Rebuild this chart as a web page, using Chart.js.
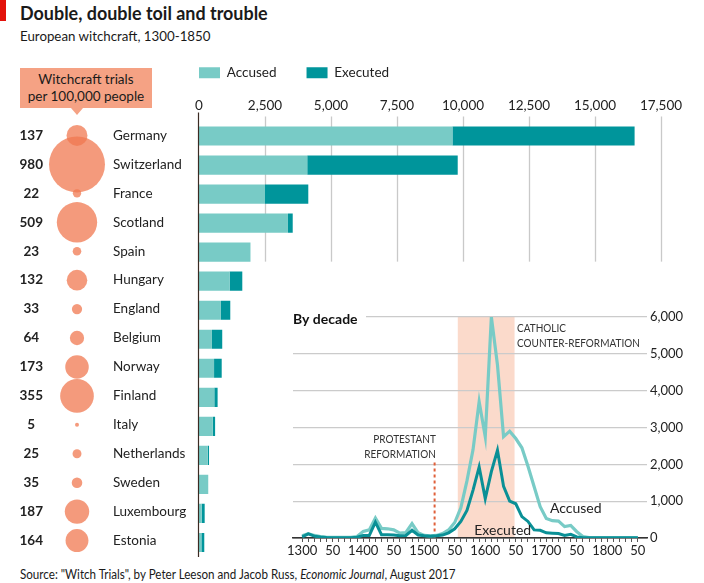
<!DOCTYPE html>
<html>
<head>
<meta charset="utf-8">
<script src="https://cdn.jsdelivr.net/npm/chart.js@4"></script>
<style>
  html, body { margin: 0; padding: 0; background: #fff; }
  body { width: 704px; height: 583px; position: relative; overflow: hidden;
         font-family: Lato, "Noto Sans", sans-serif; color: #1a1a1a; }
  canvas { position: absolute; }
  #redbar { position: absolute; left: 0; top: 0; width: 6px; height: 21px; background: #e3120b; }
  #title { position: absolute; left: 20px; top: 1px; font-size: 19.5px; font-weight: bold; white-space: nowrap;
           transform: scaleX(0.92); transform-origin: left top; }
  #subtitle { position: absolute; left: 20px; top: 27px; font-size: 14px; white-space: nowrap;
              transform: scaleX(0.95); transform-origin: left top; }
  #ratebox { position: absolute; left: 20px; top: 68px; width: 132px; height: 40px; background: #f5a284;
             text-align: center; font-size: 13.5px; line-height: 17px; padding-top: 3px; box-sizing: border-box; }
  #ratebox:after { content: ""; position: absolute; left: 51px; top: 40px; border-left: 6px solid transparent;
                   border-right: 6px solid transparent; border-top: 7px solid #f5a284; }
  #source { position: absolute; left: 20px; top: 567px; font-size: 12.5px; white-space: nowrap;
            transform: scaleX(0.93); transform-origin: left top; }
</style>
</head>
<body>
<div id="redbar"></div>
<div id="title">Double, double toil and trouble</div>
<div id="subtitle">European witchcraft, 1300-1850</div>
<div id="ratebox">Witchcraft trials<br>per 100,000 people</div>
<div id="source">Source: "Witch Trials", by Peter Leeson and Jacob Russ, <i>Economic Journal</i>, August 2017</div>

<canvas id="bars" width="704" height="583" style="left:0;top:0"></canvas>
<canvas id="bubbles" width="200" height="583" style="left:0;top:0"></canvas>
<canvas id="decades" width="424" height="283" style="left:280px;top:300px"></canvas>

<script>
// pays, essais par 100 000 habitants, accusés / exécutés (barres empilées)
const countries = ["Germany", "Switzerland", "France", "Scotland", "Spain", "Hungary", "England", "Belgium",
  "Norway", "Finland", "Italy", "Netherlands", "Sweden", "Luxembourg", "Estonia"];
const trialsPer100k = [137, 980, 22, 509, 23, 132, 33, 64, 173, 355, 5, 25, 35, 187, 164];
const accusedBar = [9600, 4100, 2500, 3370, 1950, 1160, 830, 490, 570, 580, 520, 330, 350, 100, 90];
const executedBar = [6900, 5700, 1640, 180, 0, 480, 355, 390, 290, 125, 90, 50, 0, 115, 110];
const barTicks = [0, 2500, 5000, 7500, 10000, 12500, 15000, 17500];

// par décennie
const decades = [1300, 1310, 1320, 1330, 1340, 1350, 1360, 1370, 1380, 1390,
  1400, 1410, 1420, 1430, 1440, 1450, 1460, 1470, 1480, 1490,
  1500, 1510, 1520, 1530, 1540, 1550, 1560, 1570, 1580, 1590,
  1600, 1610, 1620, 1630, 1640, 1650, 1660, 1670, 1680, 1690,
  1700, 1710, 1720, 1730, 1740, 1750, 1760, 1770, 1780, 1790,
  1800, 1810, 1820, 1830, 1840, 1850];
const accusedByDecade = [60, 120, 70, 40, 20, 15, 15, 15, 20, 40,
  180, 220, 540, 260, 250, 220, 130, 150, 390, 140,
  70, 60, 70, 120, 220, 420, 820, 1550, 2400, 3700,
  2750, 6000, 4700, 2750, 2900, 2700, 2450, 1950, 1400, 850,
  530, 470, 460, 310, 340, 170, 40, 10, 5, 5,
  5, 5, 5, 5, 5, 5];
const executedByDecade = [30, 110, 50, 25, 15, 10, 10, 10, 10, 20,
  70, 70, 430, 90, 90, 80, 60, 70, 210, 80,
  60, 50, 60, 80, 140, 250, 450, 750, 1300, 1930,
  1070, 1800, 2380, 1400, 1000, 930, 580, 450, 220, 210,
  140, 130, 120, 70, 100, 30, 10, 5, 5, 5,
  5, 5, 5, 5, 5, 5];
const decadeTicks = [0, 1000, 2000, 3000, 4000, 5000, 6000];
const counterReformation = [1555, 1648];
const protestantReformation = 1517;

const LIGHT = "#78cbc6";
const DARK = "#00959b";
Chart.defaults.font.family = 'Lato, "Noto Sans", sans-serif';
Chart.defaults.color = "#222";

// Quadrillage vertical coupé sous l'Espagne + axe gauche
const barGrid = {
  id: "barGrid",
  beforeDatasetsDraw(chart) {
    const { ctx, chartArea, scales: { x, y } } = chart;
    const bottom = y.getPixelForValue(4) + 9.5;
    ctx.save();
    ctx.strokeStyle = "#c9c9c9";
    ctx.lineWidth = 1.3;
    barTicks.slice(1).forEach((v) => {
      const px = Math.round(x.getPixelForValue(v)) + 0.5;
      ctx.beginPath();
      ctx.moveTo(px, chartArea.top - 5);
      ctx.lineTo(px, bottom);
      ctx.stroke();
    });
    ctx.restore();
  },
  afterDatasetsDraw(chart) {
    const { ctx, chartArea } = chart;
    ctx.save();
    ctx.strokeStyle = "#3b2a22";
    ctx.lineWidth = 1.2;
    ctx.beginPath();
    ctx.moveTo(chartArea.left - 0.5, chartArea.top - 9);
    ctx.lineTo(chartArea.left - 0.5, chartArea.bottom);
    ctx.stroke();
    ctx.restore();
  },
};

new Chart(document.getElementById("bars"), {
  type: "bar",
  data: {
    labels: countries,
    datasets: [
      { label: "Accused", data: accusedBar, backgroundColor: LIGHT },
      { label: "Executed", data: executedBar, backgroundColor: DARK },
    ],
  },
  options: {
    indexAxis: "y",
    responsive: false,
    animation: false,
    barPercentage: 0.66,
    categoryPercentage: 1,
    layout: { padding: { top: 36, left: 169, right: 43, bottom: 26 } },
    plugins: {
      legend: {
        position: "top",
        align: "start",
        labels: { boxWidth: 21, boxHeight: 11, padding: 30, font: { size: 13.5 }, color: "#222" },
      },
      tooltip: { enabled: false },
    },
    scales: {
      x: {
        position: "top",
        stacked: true,
        min: 0,
        max: 17500,
        ticks: { stepSize: 2500, padding: 8, font: { size: 13.5 }, callback: (v) => v.toLocaleString("en-US") },
        grid: { display: false, drawTicks: false },
        border: { display: false },
        afterFit(s) { s.height = 32; },
      },
      y: {
        stacked: true,
        ticks: { display: false },
        grid: { display: false, drawTicks: false },
        border: { display: false },
        afterFit(s) { s.width = 30; },
      },
    },
  },
  plugins: [barGrid],
});

// Bulles : aire proportionnelle au taux
new Chart(document.getElementById("bubbles"), {
  type: "bubble",
  data: {
    labels: countries,
    datasets: [{
      data: trialsPer100k.map((v, i) => ({ x: 0, y: i, r: 0.894 * Math.sqrt(v) })),
      backgroundColor: "rgba(240,120,80,0.75)",
      borderWidth: 0,
    }],
  },
  options: {
    responsive: false,
    animation: false,
    clip: false,
    layout: { padding: { top: 121, bottom: 26, left: 0, right: 0 } },
    plugins: { legend: { display: false }, tooltip: { enabled: false } },
    scales: {
      x: { type: "linear", min: -1, max: 1, display: false },
      y: {
        type: "category",
        position: "right",
        offset: true,
        grid: { display: false, drawTicks: false },
        border: { display: false },
        ticks: { padding: 3, crossAlign: "near", font: { size: 13.5 } },
        afterFit(s) { s.width = 90; },
      },
      rate: {
        type: "category",
        axis: "y",
        position: "left",
        offset: true,
        grid: { display: false, drawTicks: false },
        border: { display: false },
        ticks: { padding: 1, crossAlign: "center", font: { size: 13.5, weight: "bold" },
                 callback: (v, i) => trialsPer100k[i] },
        afterFit(s) { s.width = 44; },
      },
    },
  },
});

// Encadré par décennie : bande, pointillés, libellés
function condensed(ctx, text, x, y, align) {
  // texte en capitales un peu resserré
  const k = 0.87;
  ctx.save();
  ctx.translate(x, y);
  ctx.scale(k, 1);
  ctx.textAlign = align;
  ctx.fillText(text, 0, 0);
  ctx.restore();
}

const insetDecor = {
  id: "insetDecor",
  beforeDraw(chart) {
    const { ctx, scales: { x, y } } = chart;
    const x0 = x.getPixelForValue(counterReformation[0]);
    const x1 = x.getPixelForValue(counterReformation[1]);
    ctx.save();
    ctx.fillStyle = "#fbdacb";
    ctx.fillRect(x0, y.getPixelForValue(6000), x1 - x0, y.getPixelForValue(0) - y.getPixelForValue(6000));
    ctx.restore();
  },
  beforeDatasetsDraw(chart) {
    const { ctx, chartArea, scales: { x, y } } = chart;
    const px = x.getPixelForValue(protestantReformation);
    ctx.save();
    ctx.strokeStyle = "#e0603a";
    ctx.lineWidth = 2;
    ctx.setLineDash([3, 3]);
    ctx.beginPath();
    ctx.moveTo(px, y.getPixelForValue(2050));
    ctx.lineTo(px, y.getPixelForValue(0));
    ctx.stroke();
    ctx.restore();
    // "By decade" sur fond blanc
    ctx.save();
    ctx.fillStyle = "#fff";
    ctx.fillRect(chartArea.left - 2, y.getPixelForValue(6000) - 3, 75, 6);
    ctx.fillStyle = "#111";
    ctx.font = 'bold 14px Lato, "Noto Sans", sans-serif';
    ctx.textBaseline = "middle";
    ctx.fillText("By decade", chartArea.left, y.getPixelForValue(6000) + 2);
    ctx.restore();
  },
  afterDatasetsDraw(chart) {
    const { ctx, scales: { x, y } } = chart;
    ctx.save();
    ctx.fillStyle = "#333";
    ctx.textBaseline = "middle";
    ctx.font = '11.5px Lato, "Noto Sans", sans-serif';
    condensed(ctx, "PROTESTANT", x.getPixelForValue(1519), y.getPixelForValue(2690), "right");
    condensed(ctx, "REFORMATION", x.getPixelForValue(1519), y.getPixelForValue(2690) + 15, "right");
    condensed(ctx, "CATHOLIC", x.getPixelForValue(1652), y.getPixelForValue(5700), "left");
    condensed(ctx, "COUNTER-REFORMATION", x.getPixelForValue(1652), y.getPixelForValue(5700) + 15, "left");
    ctx.fillStyle = "#222";
    ctx.font = '14px Lato, "Noto Sans", sans-serif';
    ctx.fillText("Accused", x.getPixelForValue(1706), y.getPixelForValue(790));
    ctx.fillText("Executed", x.getPixelForValue(1582), y.getPixelForValue(215));
    ctx.restore();
  },
};

new Chart(document.getElementById("decades"), {
  type: "line",
  data: {
    datasets: [
      { label: "Executed", data: decades.map((d, i) => ({ x: d, y: executedByDecade[i] })),
        borderColor: "#0a9096", borderWidth: 3, pointRadius: 0, order: 1 },
      { label: "Accused", data: decades.map((d, i) => ({ x: d, y: accusedByDecade[i] })),
        borderColor: LIGHT, borderWidth: 3.2, pointRadius: 0, order: 2 },
    ],
  },
  options: {
    responsive: false,
    animation: false,
    layout: { padding: { top: 17, left: 13, right: 12, bottom: 20 } },
    plugins: { legend: { display: false }, tooltip: { enabled: false } },
    scales: {
      x: {
        type: "linear",
        min: 1285,
        max: 1865,
        afterBuildTicks(s) { s.ticks = decades.map((v) => ({ value: v })); },
        ticks: { autoSkip: false, maxRotation: 0, padding: 1, font: { size: 13 },
                 callback: (v) => (v % 100 === 0 ? String(v) : v % 50 === 0 ? "50" : "") },
        grid: { drawOnChartArea: false, drawTicks: true, tickLength: 4, color: "#555", lineWidth: 1 },
        border: { display: true, color: "#333", width: 1.5 },
        afterFit(s) { s.height = 25; },
      },
      y: {
        position: "right",
        min: 0,
        max: 6000,
        afterBuildTicks(s) { s.ticks = decadeTicks.map((v) => ({ value: v })); },
        ticks: { padding: 3, font: { size: 13 }, callback: (v) => v.toLocaleString("en-US") },
        grid: { color: (c) => (c.tick && c.tick.value === 0 ? "#333" : "#cbcbcb"), lineWidth: 1.2, drawTicks: false },
        border: { display: false },
        afterFit(s) { s.width = 45; },
      },
    },
  },
  plugins: [insetDecor],
});
</script>
</body>
</html>
